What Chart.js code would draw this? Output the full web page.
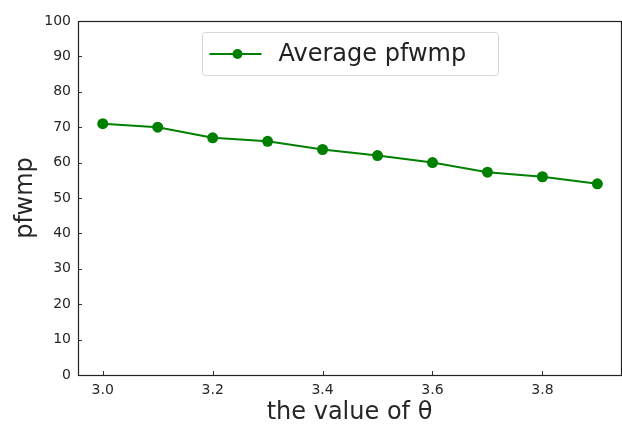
<!DOCTYPE html>
<html>
<head>
<meta charset="utf-8">
<script src="https://cdn.jsdelivr.net/npm/chart.js@4"></script>
<style>
  html, body { margin: 0; padding: 0; background: #fff; }
  #wrap { width: 622px; height: 424px; }
</style>
</head>
<body>
<div id="wrap"><canvas id="pfwmpChart" width="622" height="424"></canvas></div>
<script>
// data
const thetaValues = [3.0, 3.1, 3.2, 3.3, 3.4, 3.5, 3.6, 3.7, 3.8, 3.9];
const avgPfwmp = [71, 70, 67, 66, 63.7, 62, 60, 57.3, 56, 54];
const xTickLabels = [3.0, 3.2, 3.4, 3.6, 3.8];
const yTickLabels = [0, 10, 20, 30, 40, 50, 60, 70, 80, 90, 100];

const FONT = "'DejaVu Sans', sans-serif";
const green = "#008000";

// inward ticks + frame like matplotlib
const framePlugin = {
    id: "frame",
    afterDraw(chart) {
        const ctx = chart.ctx;
        const a = chart.chartArea;
        const xs = chart.scales.x, ys = chart.scales.y;
        ctx.save();
        ctx.strokeStyle = "#333";
        ctx.lineWidth = 1;
        ctx.beginPath();
        xs.ticks.forEach(t => {
            const px = Math.round(xs.getPixelForValue(t.value)) + 0.5;
            ctx.moveTo(px, a.bottom);
            ctx.lineTo(px, a.bottom - 4);
        });
        ys.ticks.forEach(t => {
            const py = Math.round(ys.getPixelForValue(t.value)) + 0.5;
            ctx.moveTo(a.left, py);
            ctx.lineTo(a.left + 4, py);
        });
        ctx.stroke();
        ctx.strokeStyle = "#222";
        ctx.lineWidth = 1.2;
        ctx.strokeRect(Math.round(a.left) + 0.5, Math.round(a.top) + 0.5,
            Math.round(a.right - a.left), Math.round(a.bottom - a.top));
        ctx.restore();
    }
};

// legend box inside the plot area
const innerLegend = {
    id: "innerLegend",
    afterDraw(chart) {
        const ctx = chart.ctx;
        const ds = chart.data.datasets[0];
        const x0 = 202.5, y0 = 32.5, w = 296, h = 43;
        ctx.save();
        ctx.fillStyle = "rgba(255,255,255,0.8)";
        ctx.strokeStyle = "#d6d6d6";
        ctx.lineWidth = 1;
        ctx.beginPath();
        ctx.roundRect(x0, y0, w, h, 3);
        ctx.fill();
        ctx.stroke();
        const cy = y0 + h / 2;
        ctx.strokeStyle = ds.borderColor;
        ctx.lineWidth = 2;
        ctx.beginPath();
        ctx.moveTo(x0 + 7, cy);
        ctx.lineTo(x0 + 59, cy);
        ctx.stroke();
        ctx.fillStyle = ds.backgroundColor;
        ctx.beginPath();
        ctx.arc(x0 + 35, cy, 5, 0, Math.PI * 2);
        ctx.fill();
        ctx.fillStyle = "#222";
        ctx.font = "24px " + FONT;
        ctx.textBaseline = "middle";
        ctx.fillText(ds.label, x0 + 76, cy + 1);
        ctx.restore();
    }
};

const ctx = document.getElementById("pfwmpChart").getContext("2d");
new Chart(ctx, {
    type: "line",
    data: {
        datasets: [{
            label: "Average pfwmp",
            data: thetaValues.map((t, i) => ({ x: t, y: avgPfwmp[i] })),
            borderColor: green,
            backgroundColor: green,
            borderWidth: 2,
            pointRadius: 5.5,
            pointHoverRadius: 5.5,
            pointBorderWidth: 0,
            tension: 0
        }]
    },
    options: {
        responsive: false,
        animation: false,
        layout: { autoPadding: false, padding: { top: 21, right: 1, left: 0, bottom: 0 } },
        plugins: { legend: { display: false }, tooltip: { enabled: false } },
        scales: {
            x: {
                type: "linear",
                min: 2.955,
                max: 3.943,
                afterBuildTicks(scale) {
                    scale.ticks = xTickLabels.map(v => ({ value: v }));
                },
                afterFit(scale) { scale.height = 49; },
                grid: { drawOnChartArea: false, drawTicks: false },
                border: { display: false },
                ticks: {
                    padding: 7,
                    color: "#262626",
                    font: { family: FONT, size: 14 },
                    callback: v => Number(v).toFixed(1)
                },
                title: {
                    display: true,
                    text: "the value of θ",
                    color: "#262626",
                    font: { family: FONT, size: 24, lineHeight: 1 },
                    padding: { top: 0, bottom: -1 }
                }
            },
            y: {
                min: 0,
                max: 100,
                afterBuildTicks(scale) {
                    scale.ticks = yTickLabels.map(v => ({ value: v }));
                },
                afterFit(scale) { scale.width = 78; },
                grid: { drawOnChartArea: false, drawTicks: false },
                border: { display: false },
                ticks: {
                    padding: 7,
                    color: "#262626",
                    font: { family: FONT, size: 14 }
                },
                title: {
                    display: true,
                    text: "pfwmp",
                    color: "#262626",
                    font: { family: FONT, size: 24, lineHeight: 1 },
                    padding: { top: 14, bottom: 0 }
                }
            }
        }
    },
    plugins: [framePlugin, innerLegend]
});
</script>
</body>
</html>
